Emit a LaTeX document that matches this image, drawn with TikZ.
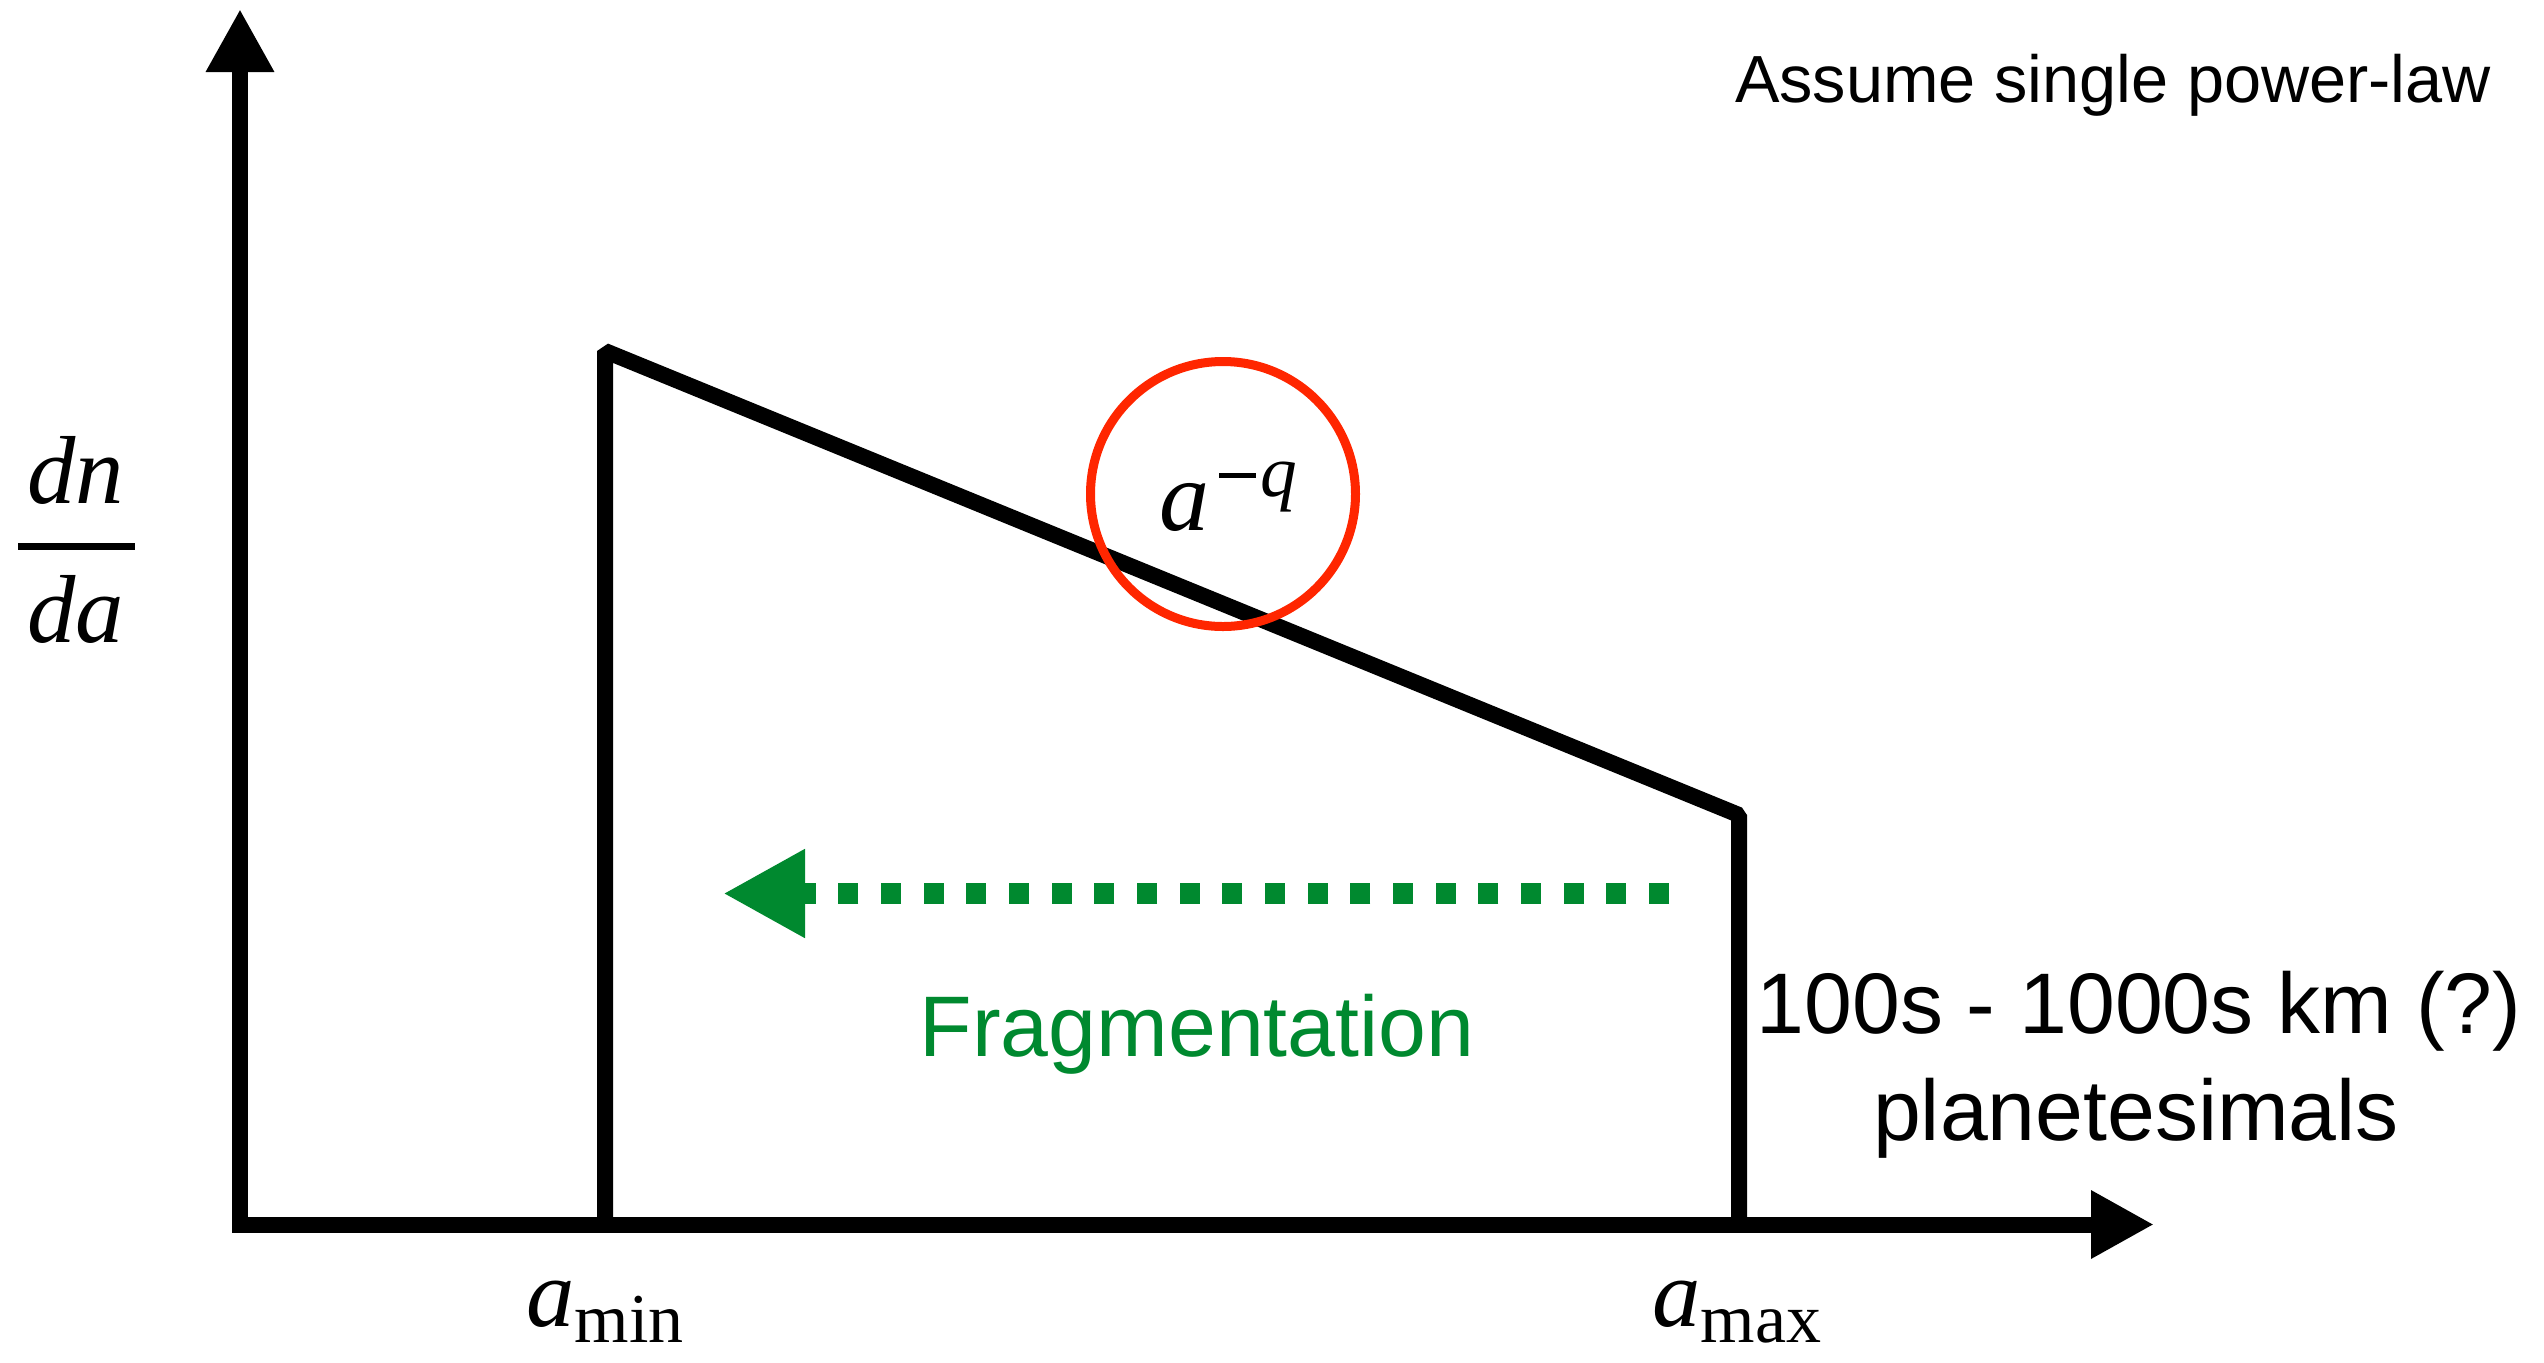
\documentclass[tikz,border=0pt]{standalone}
\usepackage{fontspec}
\setmainfont{Liberation Sans}
\newfontfamily\tms{Liberation Serif}
\usetikzlibrary{arrows.meta}
\definecolor{fragreen}{RGB}{0,137,47}
\definecolor{circred}{RGB}{255,38,0}
\begin{document}
\begin{tikzpicture}[x=0.3pt,y=-0.3pt,
 axis/.style={line width=4.8pt, -{Triangle[length=18.9pt,width=19.2pt]}},
 curve/.style={line width=4.8pt, line join=bevel},
 lbl/.style={inner sep=0pt, anchor=base},
 sans/.style={lbl, font=\fontsize{25.8}{30}\selectfont},
 mth/.style={lbl, font=\fontsize{29}{34}\selectfont\tms\itshape},
]
\useasboundingbox (0,0) rectangle (2544,1362);
% axes
\coordinate (origin) at (240,1232);
\coordinate (ytip) at (240,9);
\coordinate (xstart) at (232,1224.5);
\coordinate (xtip) at (2154,1224.5);
\draw[axis] (origin) -- (ytip);
\draw[axis] (xstart) -- (xtip);
% size distribution
\coordinate (minbot) at (605,1224.5);
\coordinate (mintop) at (605,351);
\coordinate (maxtop) at (1739,815);
\coordinate (maxbot) at (1739,1224.5);
\draw[curve] (minbot) -- (mintop) -- (maxtop) -- (maxbot);
% red circle
\node[circle, draw=circred, line width=2.7pt, inner sep=0pt, minimum size=79.5pt] (ring) at (1223,494) {};
\node[lbl] (powlaw) at (1228,530) {{\fontsize{30}{34}\selectfont\tms\itshape a}\hspace{3pt}\rule[15.5pt]{11pt}{1.5pt}\hspace{1.2pt}\raisebox{10pt}{\fontsize{22}{26}\selectfont\tms\itshape q}};
% dn/da
\node[mth] (dn) at (76,503) {dn};
\node[mth] (da) at (76,642) {da};
\coordinate (fracl) at (18,546.5);
\coordinate (fracr) at (135,546.5);
\draw[line width=2.1pt] (fracl) -- (fracr);
% a_min, a_max
\node[lbl] (amin) at (605,1326) {{\fontsize{29}{34}\selectfont\tms\itshape a}\raisebox{-5pt}{\fontsize{21}{24}\selectfont\tms min}};
\node[lbl] (amax) at (1737,1326) {{\fontsize{29}{34}\selectfont\tms\itshape a}\raisebox{-5pt}{\fontsize{21}{24}\selectfont\tms max}};
% fragmentation arrow
\coordinate (fragstart) at (1669,893.5);
\coordinate (fragtip) at (723,893.5);
\draw[fragreen, line width=6.3pt, dash pattern=on 6pt off 6.8pt, -{Triangle[length=24.6pt,width=24.9pt]}] (fragstart) -- (fragtip);
% texts
\node[sans, font=\fontsize{20}{24}\selectfont] (assume) at (2113,102) {Assume single power-law};
\node[sans] (size) at (2139,1033) {100s - 1000s km (?)};
\node[sans] (plan) at (2136,1140) {planetesimals};
\node[sans, text=fragreen] (frag) at (1197,1056) {Fragmentation};
\end{tikzpicture}
\end{document}
